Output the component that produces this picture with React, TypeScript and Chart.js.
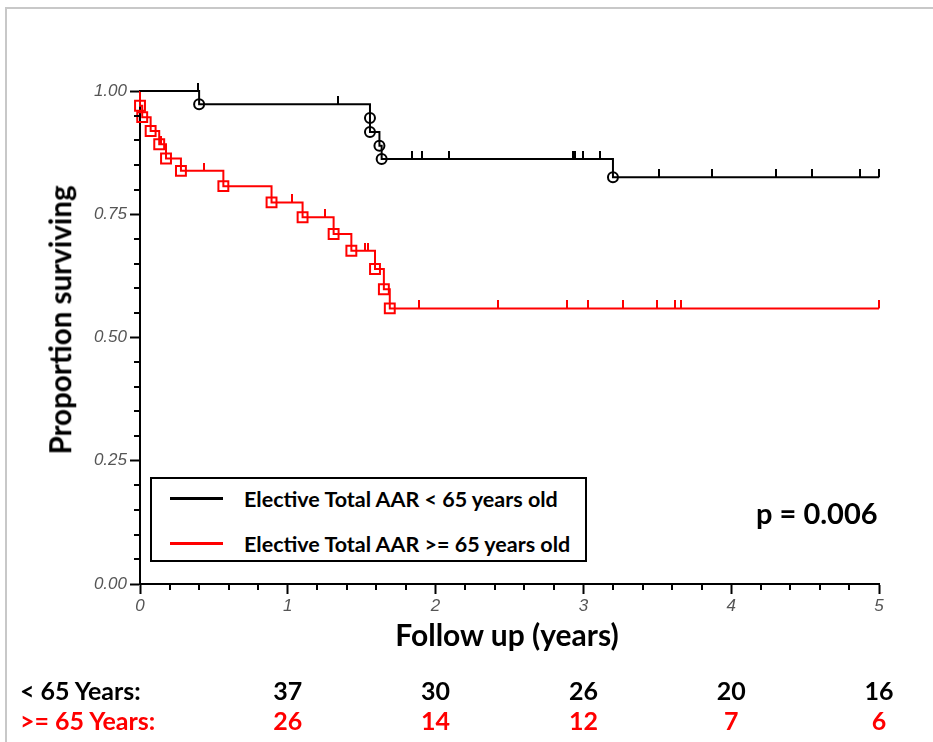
import React, { useEffect, useRef, useState } from "react";
import { Chart, registerables } from "chart.js";

Chart.register(...registerables);

// ---------------- data ----------------
const followUpStart = 0;
const followUpEnd = 5;
const xTickStep = 1;
const yTickStep = 0.25;

const seriesLabels = ["Elective Total AAR < 65 years old", "Elective Total AAR >= 65 years old"];
const seriesColors = ["#000000", "#ff0000"];

// < 65 years: event (death) times and survival after each event
const under65EventTimes = [0.4, 1.556, 1.556, 1.62, 1.635, 3.2];
const under65Survival = [0.973, 0.945, 0.917, 0.889, 0.862, 0.825];
const under65CensorTimes = [0.39, 1.34, 1.84, 1.91, 2.09, 2.93, 2.945, 2.995, 3.11, 3.51, 3.87, 4.3, 4.55, 4.87, 5.0];

// >= 65 years
const over65EventTimes = [0.0, 0.015, 0.072, 0.13, 0.176, 0.277, 0.564, 0.89, 1.1, 1.31, 1.43, 1.59, 1.65, 1.69];
const over65Survival = [0.97, 0.947, 0.919, 0.892, 0.863, 0.838, 0.807, 0.774, 0.744, 0.71, 0.676, 0.639, 0.598, 0.559];
const over65CensorTimes = [0.145, 0.43, 1.03, 1.25, 1.52, 1.545, 1.89, 2.42, 2.89, 3.03, 3.27, 3.5, 3.62, 3.66, 5.0];

// numbers at risk
const atRiskTimes = [1, 2, 3, 4, 5];
const atRiskUnder65 = [37, 30, 26, 20, 16];
const atRiskOver65 = [26, 14, 12, 7, 6];
const atRiskRowLabels = ["< 65 Years:", ">= 65 Years:"];

const pValueText = "p = 0.006";
const xTitle = "Follow up (years)";
const yTitle = "Proportion surviving";

// ---------------- helpers ----------------
function survivalAt(times: number[], surv: number[], t: number) {
  let s = 1;
  for (let i = 0; i < times.length; i++) if (times[i] <= t) s = surv[i];
  return s;
}

function stepLine(times: number[], surv: number[]) {
  const pts = [{ x: followUpStart, y: 1 }];
  times.forEach((t, i) => pts.push({ x: t, y: surv[i] }));
  pts.push({ x: followUpEnd, y: surv[surv.length - 1] });
  return pts;
}

function makeTick(color: string) {
  const c = document.createElement("canvas");
  c.width = 2;
  c.height = 16;
  const g = c.getContext("2d")!;
  g.fillStyle = color;
  g.fillRect(0, 0, 2, 8);
  return c;
}

const LABEL_FONT = "Lato, 'Noto Sans', sans-serif";
const TICK_FONT = "'Liberation Sans', Arial, sans-serif";

const minorTicksPlugin = {
  id: "minorTicks",
  afterDraw(chart: any) {
    const { ctx } = chart;
    const xs = chart.scales.x;
    const ys = chart.scales.y;
    ctx.save();
    ctx.strokeStyle = "#000";
    ctx.lineWidth = 2;
    for (let v = 0.05; v < 1; v += 0.05) {
      if (Math.abs(v / 0.25 - Math.round(v / 0.25)) < 1e-6) continue;
      const py = Math.round(ys.getPixelForValue(v));
      ctx.beginPath();
      ctx.moveTo(ys.right - 6, py);
      ctx.lineTo(ys.right, py);
      ctx.stroke();
    }
    for (let v = 0.2; v < 5; v += 0.2) {
      if (Math.abs(v - Math.round(v)) < 1e-6) continue;
      const px = Math.round(xs.getPixelForValue(v));
      ctx.beginPath();
      ctx.moveTo(px, xs.top);
      ctx.lineTo(px, xs.top + 6);
      ctx.stroke();
    }
    ctx.restore();
  },
};

export default function App() {
  const canvasRef = useRef<HTMLCanvasElement | null>(null);
  const [riskX, setRiskX] = useState<number[]>([]);

  useEffect(() => {
    document.body.style.margin = "0";
    const canvas = canvasRef.current!;
    const axisCommon = {
      type: "linear" as const,
      grid: { drawOnChartArea: false, drawTicks: true, tickLength: 10, tickColor: "#000", tickWidth: 2 },
      border: { display: true, color: "#000", width: 2 },
    };
    const chart = new Chart(canvas, {
      type: "line",
      data: {
        datasets: [
          {
            label: seriesLabels[0],
            data: stepLine(under65EventTimes, under65Survival),
            borderColor: seriesColors[0],
            borderWidth: 2,
            stepped: "before",
            pointRadius: 0,
            fill: false,
            clip: false,
          } as any,
          {
            label: seriesLabels[1],
            data: stepLine(over65EventTimes, over65Survival),
            borderColor: seriesColors[1],
            borderWidth: 2,
            stepped: "before",
            pointRadius: 0,
            fill: false,
            clip: false,
          } as any,
          {
            label: "events <65",
            data: under65EventTimes.map((t, i) => ({ x: t, y: under65Survival[i] })),
            showLine: false,
            pointStyle: "circle",
            pointRadius: 5,
            pointBorderWidth: 2,
            pointBorderColor: seriesColors[0],
            pointBackgroundColor: "rgba(0,0,0,0)",
            clip: false,
          } as any,
          {
            label: "events >=65",
            data: over65EventTimes.map((t, i) => ({ x: t, y: over65Survival[i] })),
            showLine: false,
            pointStyle: "rect",
            pointRadius: 7,
            pointBorderWidth: 2,
            pointBorderColor: seriesColors[1],
            pointBackgroundColor: "rgba(0,0,0,0)",
            clip: false,
          } as any,
          {
            label: "censored <65",
            data: under65CensorTimes.map((t) => ({ x: t, y: survivalAt(under65EventTimes, under65Survival, t) })),
            showLine: false,
            pointStyle: makeTick(seriesColors[0]),
            pointRadius: 4,
            clip: false,
          } as any,
          {
            label: "censored >=65",
            data: over65CensorTimes.map((t) => ({ x: t, y: survivalAt(over65EventTimes, over65Survival, t) })),
            showLine: false,
            pointStyle: makeTick(seriesColors[1]),
            pointRadius: 4,
            clip: false,
          } as any,
        ],
      },
      options: {
        animation: false,
        responsive: true,
        maintainAspectRatio: false,
        layout: { padding: { left: 80, right: 54, top: 91, bottom: 98 } },
        plugins: { legend: { display: false }, tooltip: { enabled: false } },
        events: [],
        scales: {
          x: {
            ...axisCommon,
            min: followUpStart,
            max: followUpEnd,
            ticks: {
              stepSize: xTickStep,
              color: "#555",
              padding: 2,
              font: { family: TICK_FONT, size: 17, style: "italic" },
            },
            afterFit: (s: any) => {
              s.height = 60;
            },
          },
          y: {
            ...axisCommon,
            min: 0,
            max: 1,
            ticks: {
              stepSize: yTickStep,
              color: "#555",
              padding: 3,
              font: { family: TICK_FONT, size: 17, style: "italic" },
              callback: (v: any) => Number(v).toFixed(2),
            },
            afterFit: (s: any) => {
              s.width = 60;
            },
          },
        },
      } as any,
      plugins: [minorTicksPlugin],
    });
    setRiskX(atRiskTimes.map((t) => chart.scales.x.getPixelForValue(t)));
    return () => chart.destroy();
  }, []);

  const bold = { fontFamily: LABEL_FONT, fontWeight: 700 as const };

  return (
    <div style={{ position: "relative", width: 933, height: 742, overflow: "hidden", background: "#fff" }}>
      <div
        style={{
          position: "absolute",
          left: 5,
          top: 7,
          width: 940,
          height: 750,
          borderLeft: "2px solid #c8c8c8",
          borderTop: "2px solid #c8c8c8",
        }}
      />
      <div style={{ position: "absolute", left: 0, top: 0, width: 933, height: 742 }}>
        <canvas ref={canvasRef} />
      </div>

      {/* y title */}
      <div
        style={{
          ...bold,
          position: "absolute",
          left: 60,
          top: 320,
          fontSize: 29.5,
          whiteSpace: "nowrap",
          transform: "translate(-50%, -50%) rotate(-90deg)",
          lineHeight: 1,
        }}
      >
        {yTitle}
      </div>
      {/* x title */}
      <div
        style={{
          ...bold,
          position: "absolute",
          left: 507,
          top: 634,
          fontSize: 30,
          whiteSpace: "nowrap",
          transform: "translate(-50%, -50%)",
          lineHeight: 1,
        }}
      >
        {xTitle}
      </div>

      {/* legend */}
      <div
        style={{
          position: "absolute",
          left: 150,
          top: 477,
          width: 437,
          height: 85,
          boxSizing: "border-box",
          border: "2px solid #000",
          background: "#fff",
        }}
      >
        {seriesLabels.map((lab, i) => (
          <div key={lab} style={{ position: "absolute", left: 0, top: 20 + i * 45 - 12, height: 24, width: 433 }}>
            <div
              style={{
                position: "absolute",
                left: 18,
                top: 10,
                width: 53,
                height: 3,
                background: seriesColors[i],
              }}
            />
            <div
              style={{
                ...bold,
                position: "absolute",
                left: 92,
                top: 0,
                fontSize: 21.5,
                lineHeight: "24px",
                whiteSpace: "nowrap",
                color: "#000",
              }}
            >
              {lab}
            </div>
          </div>
        ))}
      </div>

      {/* p value */}
      <div
        style={{
          ...bold,
          position: "absolute",
          left: 756,
          top: 512,
          fontSize: 29,
          lineHeight: 1,
          transform: "translateY(-50%)",
          whiteSpace: "nowrap",
        }}
      >
        {pValueText}
      </div>

      {/* numbers at risk */}
      {[atRiskUnder65, atRiskOver65].map((row, r) => (
        <React.Fragment key={r}>
          <div
            style={{
              ...bold,
              position: "absolute",
              left: 20,
              top: 690 + r * 30,
              fontSize: 25,
              lineHeight: 1,
              transform: "translateY(-50%)",
              whiteSpace: "nowrap",
              color: seriesColors[r],
            }}
          >
            {atRiskRowLabels[r]}
          </div>
          {riskX.map((px, i) => (
            <div
              key={i}
              style={{
                ...bold,
                position: "absolute",
                left: px,
                top: 690 + r * 30,
                fontSize: 25,
                lineHeight: 1,
                transform: "translate(-50%, -50%)",
                whiteSpace: "nowrap",
                color: seriesColors[r],
              }}
            >
              {row[i]}
            </div>
          ))}
        </React.Fragment>
      ))}
    </div>
  );
}
